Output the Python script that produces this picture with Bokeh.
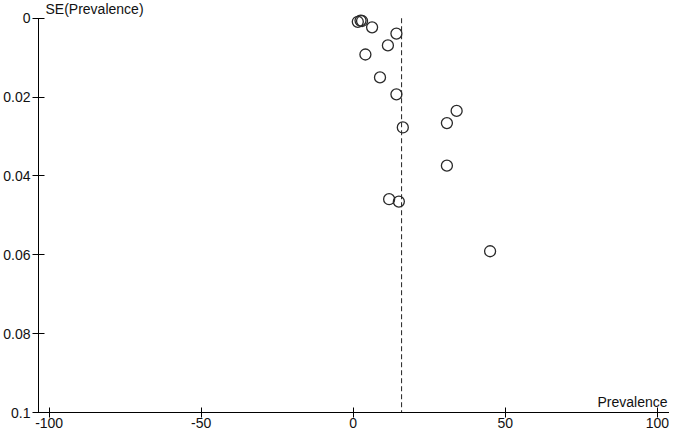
from bokeh.plotting import figure
from bokeh.models import Range1d, FixedTicker, Label
from bokeh.embed import file_html
from bokeh.resources import INLINE

# Data
prevalence = [1.5, 2.4, 2.9, 6.2, 14.2, 11.4, 4.0, 8.8, 14.2, 34.0, 16.3, 30.8, 30.8, 11.8, 15.0, 45.0]
se_prevalence = [0.0009, 0.0006, 0.0007, 0.0023, 0.0039, 0.0069, 0.0092, 0.0150, 0.0193,
                 0.0235, 0.0277, 0.0266, 0.0374, 0.0459, 0.0465, 0.0591]
pooled = 15.9

x_ticks = [-100, -50, 0, 50, 100]
x_tick_labels = ["-100", "-50", "0", "50", "100"]
y_ticks = [0, 0.02, 0.04, 0.06, 0.08, 0.1]
y_tick_labels = ["0", "0.02", "0.04", "0.06", "0.08", "0.1"]

FONT = "Liberation Sans"
FS = "14px"
TXT = "#111111"

p = figure(width=669, height=430, output_backend="svg", toolbar_location=None,
           x_range=Range1d(-103.5, 104), y_range=Range1d(0.1, -0.0045),
           min_border_top=0, min_border_right=0, min_border_left=0, min_border_bottom=0)
p.outline_line_color = None
p.xgrid.grid_line_color = None
p.ygrid.grid_line_color = None
p.background_fill_color = "white"
p.border_fill_color = "white"

for ax in (p.xaxis[0], p.yaxis[0]):
    ax.axis_line_color = "black"
    ax.axis_line_width = 1
    ax.major_tick_line_color = "black"
    ax.minor_tick_line_color = None
    ax.major_label_text_font = FONT
    ax.major_label_text_font_size = FS
    ax.major_label_text_color = TXT

p.xaxis.ticker = FixedTicker(ticks=x_ticks)
p.xaxis.major_label_overrides = {t: l for t, l in zip(x_ticks, x_tick_labels)}
p.xaxis.major_tick_in = 5
p.xaxis.major_tick_out = 5
p.xaxis.major_label_standoff = 0

p.yaxis.ticker = FixedTicker(ticks=y_ticks)
p.yaxis.bounds = (0, 0.1)
p.yaxis.major_label_overrides = {t: l for t, l in zip(y_ticks, y_tick_labels)}
p.yaxis.major_tick_in = 6
p.yaxis.major_tick_out = 6
p.yaxis.major_label_standoff = 2

# pooled estimate line
p.segment(x0=[pooled], y0=[0], x1=[pooled], y1=[0.1], line_color="#222222",
          line_width=1, line_dash="5 3")

# studies
p.scatter(prevalence, se_prevalence, marker="circle", size=11, fill_color=None,
          line_color="#2a2a2a", line_width=1.3)

p.add_layout(Label(x=-103.5, y=0, x_offset=7, y_offset=1, text="SE(Prevalence)",
                   text_align="left", text_baseline="bottom",
                   text_font=FONT, text_font_size=FS, text_color=TXT))
p.add_layout(Label(x=104, y=0.1, x_offset=-2, y_offset=3, text="Prevalence",
                   text_align="right", text_baseline="bottom",
                   text_font=FONT, text_font_size=FS, text_color=TXT))

open("out.html", "w").write(file_html(p, INLINE))
